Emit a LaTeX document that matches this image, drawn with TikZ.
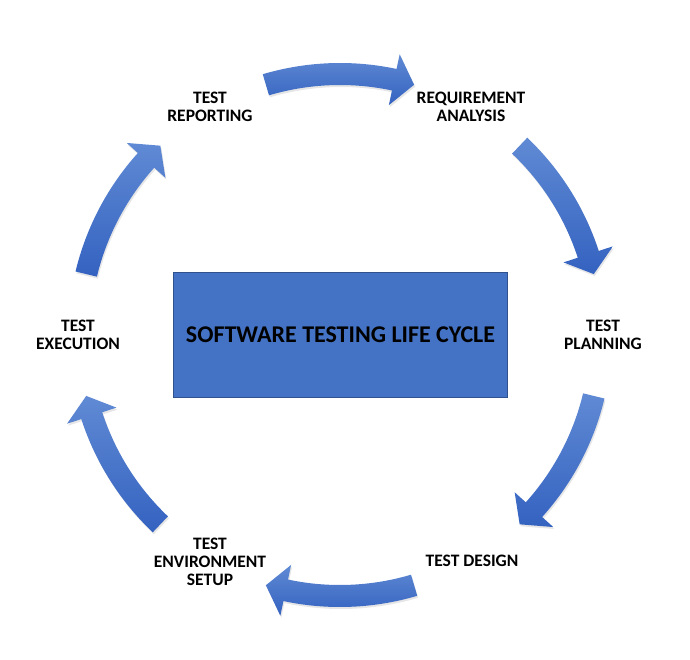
\documentclass[tikz,border=0pt]{standalone}
\usepackage{fontspec}
\setmainfont{Carlito}
\usetikzlibrary{shadows}

\definecolor{boxblue}{RGB}{68,114,196}
\definecolor{boxedge}{RGB}{47,82,143}
\definecolor{arrowlight}{RGB}{96,138,212}
\definecolor{arrowdark}{RGB}{52,98,192}

\tikzset{
  stage/.style = {align = center, font = \fontsize{17.5}{18}\selectfont\bfseries},
  cyclearrow/.style = {top color = arrowlight, bottom color = arrowdark,
    drop shadow = {opacity = .2, shadow xshift = 1pt, shadow yshift = -2pt}}
}

\begin{document}
\begin{tikzpicture}[x = 1pt, y = 1pt]
  \pgfmathsetmacro{\R}{261}
  \pgfmathsetmacro{\Ro}{\R + 11}
  \pgfmathsetmacro{\Ri}{\R - 11}
  \pgfmathsetmacro{\Ho}{\R + 26}
  \pgfmathsetmacro{\Hi}{\R - 26}

  \useasboundingbox (-340, -324) rectangle (350, 335);
  \coordinate (O) at (0, 0);

  \node[draw = boxedge, line width = 1pt, fill = boxblue,
  minimum width = 333pt, minimum height = 125pt,
  font = \fontsize{24}{28}\selectfont\bfseries] (stlc) at (0.5, 0.5)
  {SOFTWARE TESTING LIFE CYCLE};

  \node[stage] (report) at (-130, 228) {TEST\\REPORTING};
  \node[stage] (analysis) at (131, 228) {REQUIREMENT\\ANALYSIS};
  \node[stage] (planning) at (263, 0) {TEST\\PLANNING};
  \node[stage] (design) at (132, -226) {TEST DESIGN};
  \node[stage] (setup) at (-130, -227) {TEST\\ENVIRONMENT\\SETUP};
  \node[stage] (execution) at (-262, 0) {TEST\\EXECUTION};

  % curved block arrows between the stages
  \foreach \c in {90, 30, -30, -90, -150, 150} {
    \pgfmathsetmacro{\a}{\c + 16.5}
    \pgfmathsetmacro{\b}{\c - 12}
    \pgfmathsetmacro{\t}{\c - 16.5}
    \shade[cyclearrow] (\a:\Ro) arc[start angle = \a, end angle = \b, radius = \Ro]
    -- (\b:\Ho) -- (\t:\R) -- (\b:\Hi) -- (\b:\Ri)
    arc[start angle = \b, end angle = \a, radius = \Ri] -- cycle;
  }
\end{tikzpicture}
\end{document}
